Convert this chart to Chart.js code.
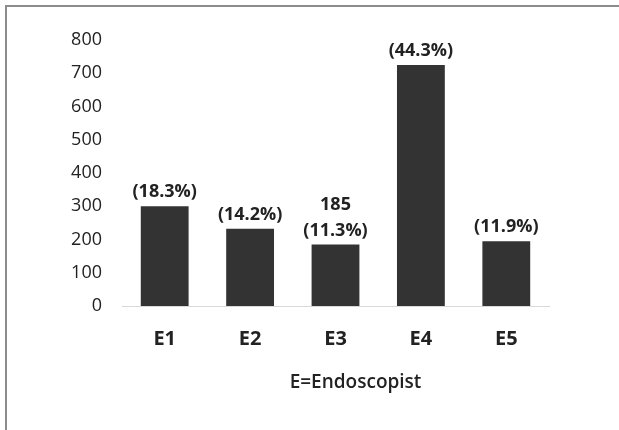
<!DOCTYPE html>
<html>
<head>
<meta charset="utf-8">
<script src="https://cdn.jsdelivr.net/npm/chart.js@4.4.1/dist/chart.umd.min.js"></script>
<style>
  html, body { margin: 0; padding: 0; background: #fff; overflow: hidden; }
  #wrap { position: relative; width: 619px; height: 430px; }
  #frame {
    position: absolute; left: 5px; top: 5px; width: 614px; height: 425px;
    border-left: 2px solid #8c8c8c; border-top: 2px solid #8c8c8c;
    box-sizing: border-box;
    pointer-events: none;
  }
</style>
</head>
<body>
<div id="wrap">
  <canvas id="endo" width="619" height="430"></canvas>
  <div id="frame"></div>
</div>
<script>
var categories = ['E1', 'E2', 'E3', 'E4', 'E5'];
var counts = [300, 232, 185, 725, 195];
var percents = [18.3, 14.2, 11.3, 44.3, 11.9];
var showCount = [false, false, true, false, false];
var yTicks = [0, 100, 200, 300, 400, 500, 600, 700, 800];
var axisTitle = 'E=Endoscopist';

var FONT = "'Open Sans', sans-serif";
var INK = '#222222';

// labels above bars + axis title (shifted right like the original)
var barLabels = {
    id: 'barLabels',
    afterDatasetsDraw: function(chart) {
        var ctx = chart.ctx;
        var meta = chart.getDatasetMeta(0);
        ctx.save();
        ctx.fillStyle = INK;
        ctx.textAlign = 'center';
        ctx.textBaseline = 'middle';
        ctx.font = 'bold 18px ' + FONT;
        meta.data.forEach(function(bar, i) {
            var y = bar.y - 14;
            ctx.fillText('(' + percents[i].toFixed(1) + '%)', bar.x, y);
            if (showCount[i]) {
                ctx.fillText(String(counts[i]), bar.x, y - 26);
            }
        });
        var area = chart.chartArea;
        ctx.font = '600 19px ' + FONT;
        ctx.fillText(axisTitle, (area.left + area.right) / 2 + 20, 383);
        ctx.restore();
    }
};

var ctx = document.getElementById('endo').getContext('2d');
var myChart = new Chart(ctx, {
    type: 'bar',
    data: {
        labels: categories,
        datasets: [{
            data: counts,
            backgroundColor: '#333333',
            borderWidth: 0,
            categoryPercentage: 1,
            barPercentage: 0.56
        }]
    },
    options: {
        responsive: false,
        animation: false,
        devicePixelRatio: 1,
        layout: { padding: { left: 0, right: 70, top: 40, bottom: 0 } },
        plugins: {
            legend: { display: false },
            tooltip: { enabled: false }
        },
        scales: {
            x: {
                grid: { display: false, drawTicks: false },
                border: { display: true, color: '#d9d9d9', width: 1 },
                ticks: {
                    color: INK,
                    padding: 21,
                    font: { family: FONT, size: 20, weight: 'bold' }
                },
                afterFit: function(scale) { scale.height = 124; }
            },
            y: {
                min: 0,
                max: 800,
                grid: { display: false, drawTicks: false },
                border: { display: false },
                afterBuildTicks: function(scale) {
                    scale.ticks = yTicks.map(function(v) { return { value: v }; });
                },
                ticks: {
                    color: INK,
                    padding: 20,
                    font: { family: FONT, size: 18, weight: 500 }
                },
                afterFit: function(scale) { scale.width = 122; }
            }
        }
    },
    plugins: [barLabels]
});
</script>
</body>
</html>
